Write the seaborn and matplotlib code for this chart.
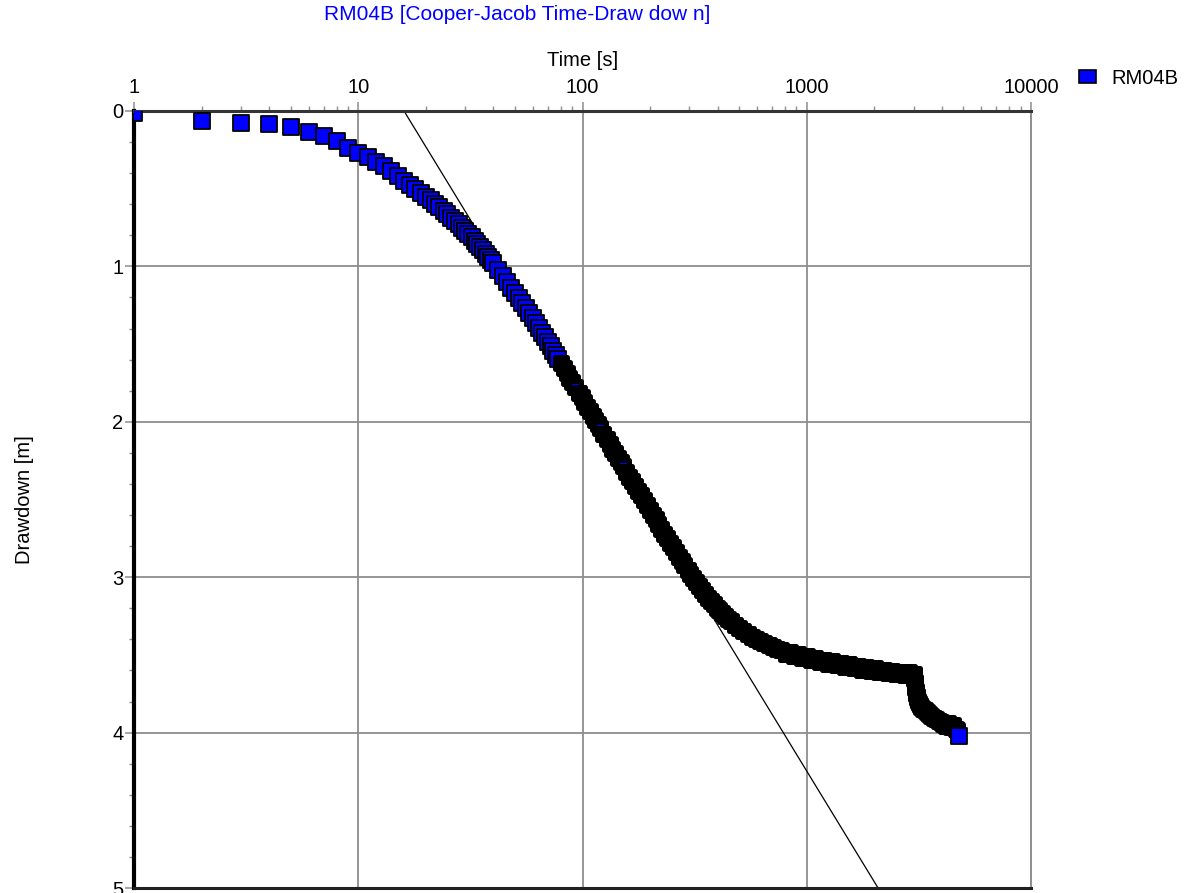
import matplotlib
matplotlib.use("Agg")
import matplotlib.pyplot as plt
import matplotlib.ticker as mticker
from matplotlib.patches import Patch
import seaborn as sns
import pandas as pd

# Pumping test RM04B: elapsed time [s] and measured drawdown [m]
time_s = [
    1, 2, 3, 4, 5, 6, 7, 8, 9, 10,
    11, 12, 13, 14, 15, 16, 17, 18, 19, 20,
    21, 22, 23, 24, 25, 26, 27, 28, 29, 30,
    31, 32, 33, 34, 35, 36, 37, 38, 39, 40,
    42, 44, 46, 48, 50, 52, 54, 56, 58,
    60, 62, 64, 66, 68, 70, 72, 74, 76, 78, 80, 82.5, 85, 87.5, 90,
    93, 96, 99, 102, 105, 108, 111, 114, 117, 120, 124, 128, 132, 136,
    140, 144, 148, 152, 157, 162, 167, 172, 177, 182, 188, 194, 200,
    206, 212, 218, 225, 232, 239, 246, 253, 261, 269, 277, 285, 294,
    303, 312, 321, 331, 341, 351, 362, 373, 384, 396, 408, 420, 433,
    446, 460, 480, 500, 522, 545, 570, 595, 620, 648, 677, 707, 738,
    771, 805, 840, 877, 916, 957, 1000, 1045, 1090, 1140, 1190, 1245,
    1300, 1360, 1420, 1485, 1550, 1620, 1690, 1765, 1845, 1930, 2015,
    2105, 2200, 2300, 2400, 2510, 2620, 2740, 2860, 2960, 3000,
    3010, 3020, 3030, 3040, 3050, 3060, 3075, 3090, 3110, 3135, 3165,
    3200, 3245, 3300, 3360, 3430, 3510, 3590, 3680, 3770, 3870, 3970,
    4070, 4170, 4280, 4390, 4500, 4620, 4700, 4786,
]
drawdown_m = [
    0.010, 0.064, 0.080, 0.084, 0.105, 0.133, 0.160, 0.195, 0.235, 0.268,
    0.295, 0.325, 0.355, 0.389, 0.420, 0.449, 0.476, 0.502, 0.527, 0.551,
    0.574, 0.596, 0.617, 0.641, 0.664, 0.686, 0.708, 0.730, 0.751, 0.772,
    0.793, 0.814, 0.835, 0.855, 0.876, 0.897, 0.918, 0.939, 0.960, 0.981,
    1.022, 1.062, 1.100, 1.136, 1.170, 1.205, 1.238, 1.270, 1.301,
    1.333, 1.365, 1.396, 1.426, 1.456, 1.485, 1.514, 1.542, 1.570, 1.597,
    1.623, 1.655, 1.686, 1.716, 1.745,
    1.779, 1.812, 1.843, 1.874, 1.904, 1.933, 1.962, 1.990, 2.017, 2.043,
    2.077, 2.110, 2.142, 2.173,
    2.203, 2.232, 2.260, 2.287, 2.320, 2.352, 2.383, 2.413, 2.443, 2.472,
    2.505, 2.537, 2.568,
    2.598, 2.627, 2.656, 2.688, 2.719, 2.749, 2.778, 2.806, 2.837, 2.867,
    2.896, 2.923, 2.953,
    2.981, 3.008, 3.033, 3.059, 3.084, 3.107, 3.131, 3.153, 3.174, 3.195,
    3.214, 3.232, 3.251,
    3.268, 3.285, 3.307, 3.327, 3.347, 3.365, 3.383, 3.398, 3.412, 3.426,
    3.439, 3.450, 3.461,
    3.471, 3.491, 3.479, 3.507, 3.495, 3.522, 3.508, 3.535, 3.520, 3.546,
    3.531, 3.556,
    3.541, 3.566, 3.551, 3.576, 3.560, 3.585, 3.569, 3.594, 3.578, 3.602,
    3.586,
    3.610, 3.594, 3.618, 3.601, 3.624, 3.607, 3.629, 3.611, 3.631, 3.620,
    3.635, 3.655, 3.675, 3.695, 3.715, 3.730, 3.750, 3.765, 3.780, 3.795,
    3.810,
    3.820, 3.833, 3.845, 3.857, 3.868, 3.880, 3.893, 3.905, 3.915, 3.925,
    3.935,
    3.945, 3.955, 3.940, 3.965, 3.950, 3.975, 3.985, 4.020,
]

# Cooper-Jacob straight-line fit (end points of the fitted line)
fit_time_s = [16.0, 2080.0]
fit_drawdown_m = [0.0, 5.0]

x_ticks = [1, 10, 100, 1000, 10000]
y_ticks = [0, 1, 2, 3, 4, 5]

well = "RM04B"
title = "RM04B [Cooper-Jacob Time-Draw dow n]"

obs = pd.DataFrame({"time": time_s, "drawdown": drawdown_m})

sns.set_theme(style="white")
plt.rcParams["font.family"] = ["Liberation Sans", "DejaVu Sans"]

BLUE = "#0000ff"
GRID = "#8e8e8e"
FS = 14.5

fig = plt.figure(figsize=(11.97, 8.93), dpi=100)
ax = fig.add_axes([134 / 1197, 5 / 893, 897 / 1197, 777 / 893])

ax.set_xscale("log")
ax.set_xlim(x_ticks[0], x_ticks[-1])
ax.set_ylim(y_ticks[-1], y_ticks[0])

# fitted line beneath the observations
sns.lineplot(x=fit_time_s, y=fit_drawdown_m, color="black", linewidth=0.9,
             ax=ax, legend=False, zorder=2, sort=False)

# early readings, dense logger readings (heavy outline), and the final reading
early = obs[obs["time"] < 80]
dense = obs[obs["time"] >= 80].iloc[:-1]
last = obs.iloc[[-1]]
sns.scatterplot(data=early, x="time", y="drawdown", marker="s", s=128,
                color=BLUE, edgecolor="black", linewidth=1.3, ax=ax,
                legend=False, zorder=3, clip_on=True)
sns.scatterplot(data=dense, x="time", y="drawdown", marker="s", s=81,
                color=BLUE, edgecolor="black", linewidth=3.6, ax=ax,
                legend=False, zorder=3, clip_on=True)
sns.scatterplot(data=last, x="time", y="drawdown", marker="s", s=128,
                color=BLUE, edgecolor="black", linewidth=1.3, ax=ax,
                legend=False, zorder=3, clip_on=True)

# axes: time on top, drawdown increasing downward
ax.xaxis.tick_top()
ax.xaxis.set_label_position("top")
ax.xaxis.set_major_locator(mticker.FixedLocator(x_ticks))
ax.xaxis.set_major_formatter(mticker.FuncFormatter(lambda v, _: f"{v:g}"))
ax.xaxis.set_minor_locator(mticker.LogLocator(base=10, subs=range(2, 10)))
ax.xaxis.set_minor_formatter(mticker.NullFormatter())
ax.yaxis.set_major_locator(mticker.FixedLocator(y_ticks))
ax.yaxis.set_minor_locator(mticker.MultipleLocator(0.2))

ax.tick_params(axis="both", which="major", labelsize=FS, colors=GRID,
               labelcolor="black", width=1.1)
ax.tick_params(axis="x", which="major", top=True, bottom=False, length=6.5, pad=3.5)
ax.tick_params(axis="x", which="minor", top=True, bottom=False, length=3.6,
               width=1.0, color=GRID)
ax.tick_params(axis="y", which="major", left=True, length=6.5, pad=1)
ax.tick_params(axis="y", which="minor", left=True, length=3.6, width=1.0, color=GRID)

ax.grid(True, which="major", color=GRID, linewidth=1.3)
ax.set_axisbelow(True)

ax.spines["left"].set_color("black")
ax.spines["left"].set_linewidth(3.0)
ax.spines["top"].set_color("#353535")
ax.spines["top"].set_linewidth(2.2)
ax.spines["bottom"].set_color("#202020")
ax.spines["bottom"].set_linewidth(2.2)
ax.spines["right"].set_color(GRID)
ax.spines["right"].set_linewidth(1.4)

ax.set_xlabel("Time [s]", fontsize=FS, color="black")
ax.xaxis.set_label_coords(0.5, (888 - 66) / 777)
ax.set_ylabel("Drawdown [m]", fontsize=FS, color="black")
ax.yaxis.set_label_coords(-(134 - 34) / 897, 0.5)

fig.text(517 / 1197, 1 - 14 / 893, title, color=BLUE, fontsize=15,
         ha="center", va="center")

ax.legend(handles=[Patch(facecolor=BLUE, edgecolor="black", linewidth=1.2)],
          labels=[well], loc="center left",
          bbox_to_anchor=(1079 / 1197, 1 - 78 / 893),
          bbox_transform=fig.transFigure, frameon=False, fontsize=FS,
          labelcolor="black",
          handlelength=0.85, handleheight=0.6, handletextpad=0.75,
          borderpad=0, borderaxespad=0)

fig.savefig("out.png", dpi=100)
